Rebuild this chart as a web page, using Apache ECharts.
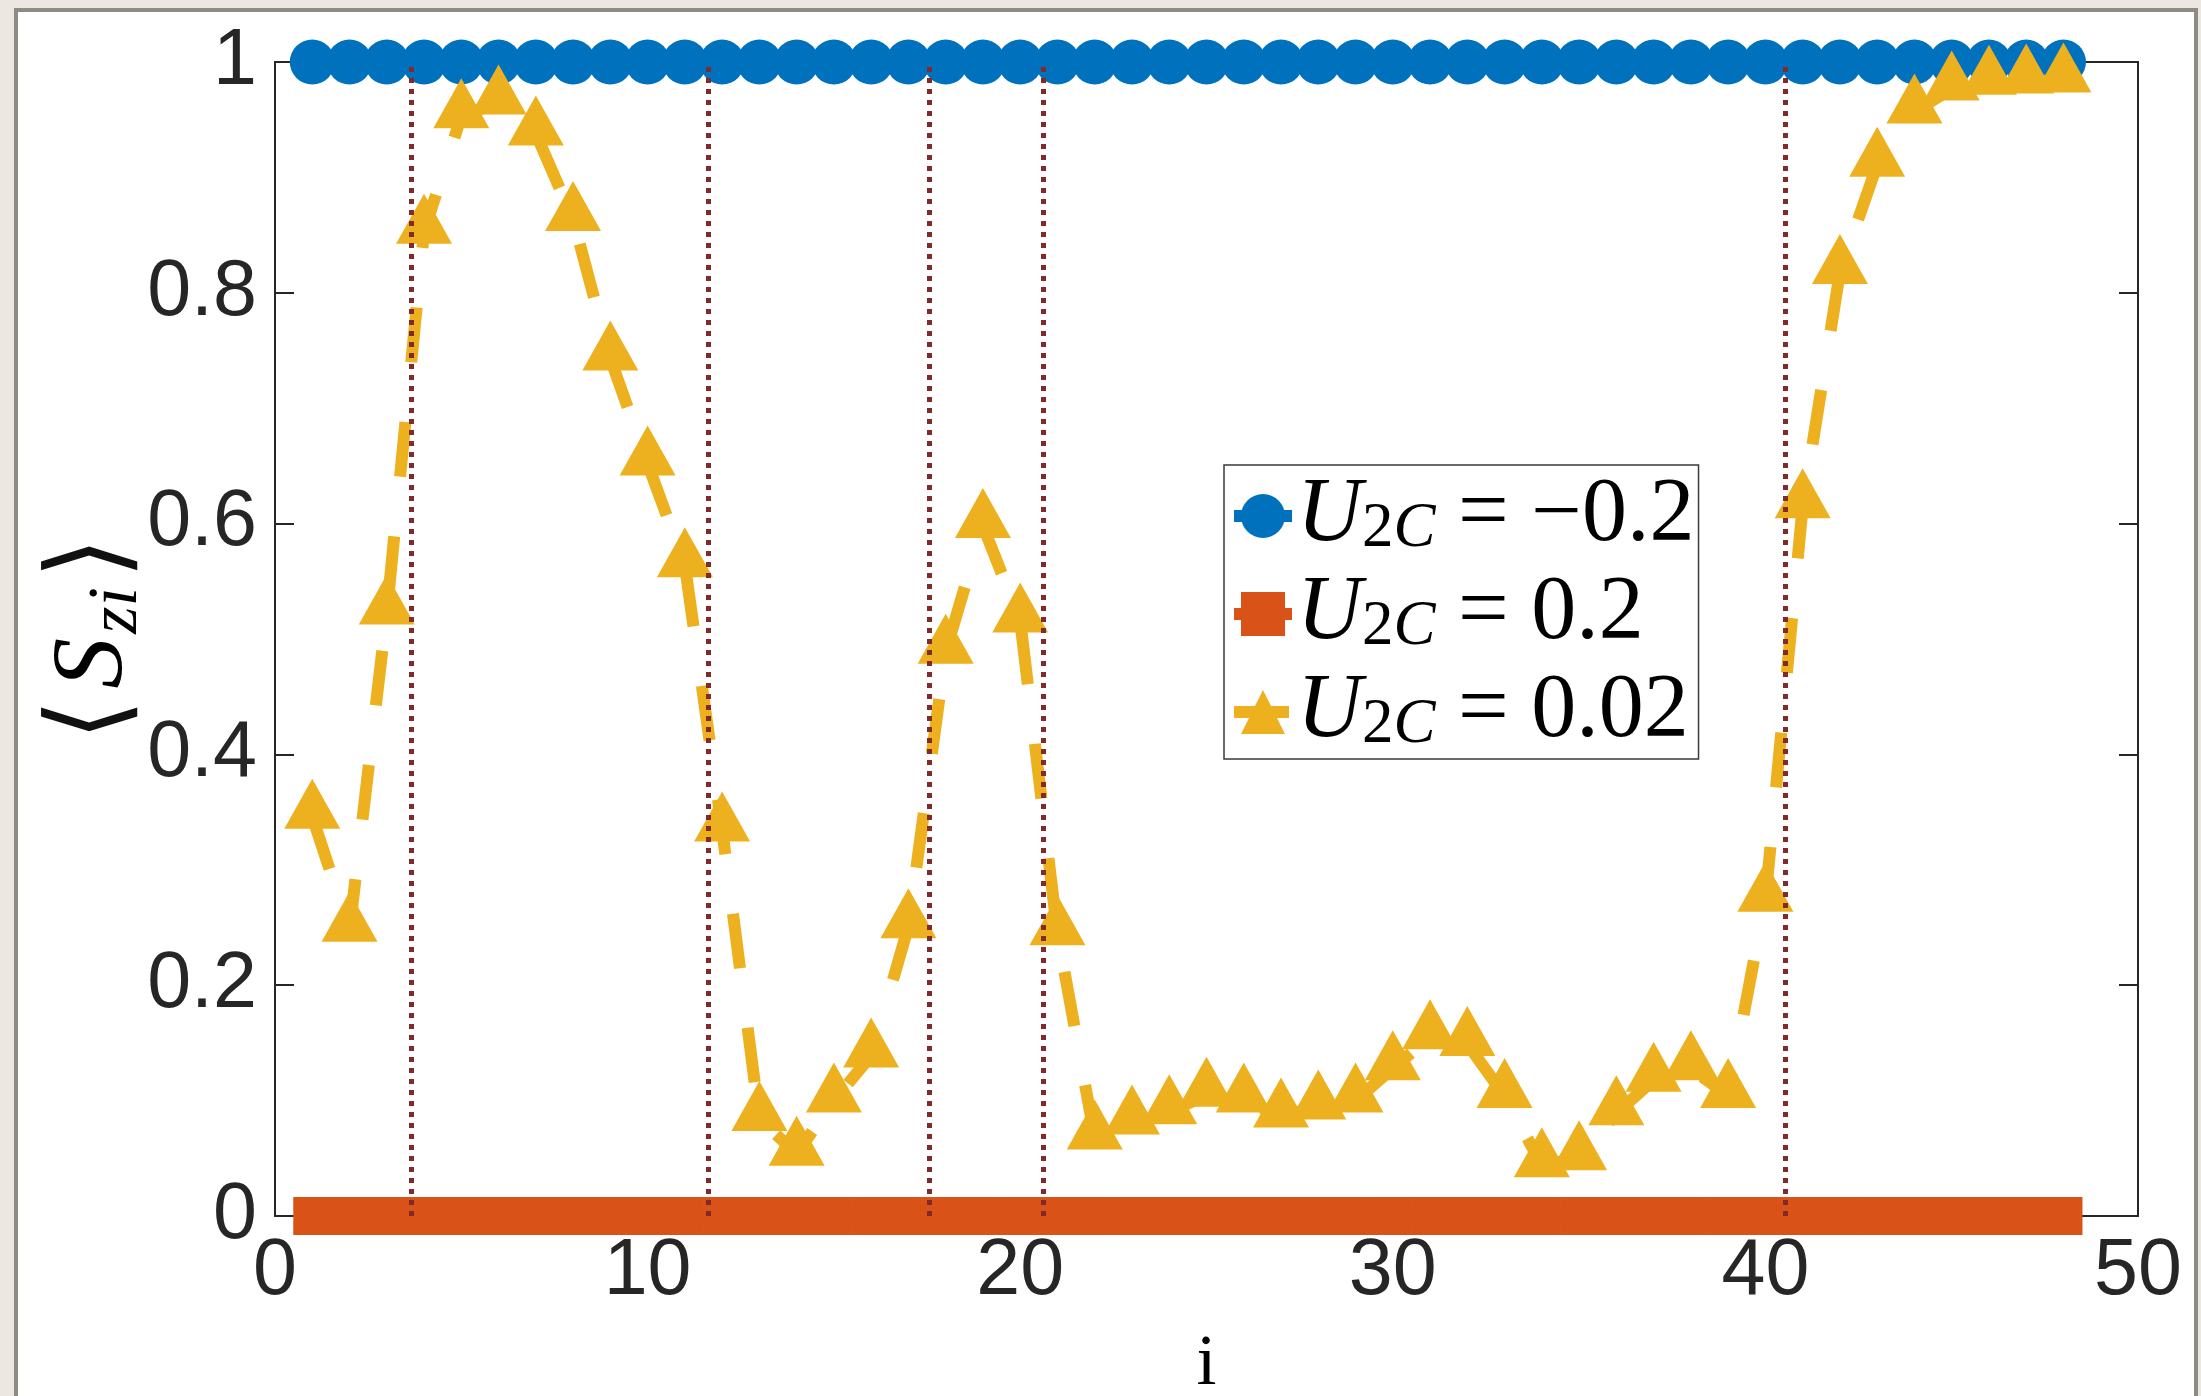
<!DOCTYPE html>
<html>
<head>
<meta charset="utf-8">
<script src="https://cdn.jsdelivr.net/npm/echarts@6/dist/echarts.min.js"></script>
<style>
  html, body { margin: 0; padding: 0; width: 2201px; height: 1396px; overflow: hidden; background: #ece8e1; }
  #frame { position: absolute; left: 14px; top: 8px; width: 2184px; height: 1400px; box-sizing: border-box;
           border: 4px solid #8e8a84; background: #ffffff; }
  #chart { position: absolute; left: 0; top: 0; width: 2201px; height: 1396px; }
</style>
</head>
<body>
<div id="frame"></div>
<div id="chart"></div>
<script>
// Site index i along the chain
const sites = [1, 2, 3, 4, 5, 6, 7, 8, 9, 10, 11, 12, 13, 14, 15, 16, 17, 18, 19, 20, 21, 22, 23, 24,
               25, 26, 27, 28, 29, 30, 31, 32, 33, 34, 35, 36, 37, 38, 39, 40, 41, 42, 43, 44, 45, 46, 47, 48];

// <S_zi> for U_2C = -0.2
const szNeg = [1, 1, 1, 1, 1, 1, 1, 1, 1, 1, 1, 1, 1, 1, 1, 1, 1, 1, 1, 1, 1, 1, 1, 1,
               1, 1, 1, 1, 1, 1, 1, 1, 1, 1, 1, 1, 1, 1, 1, 1, 1, 1, 1, 1, 1, 1, 1, 1];

// <S_zi> for U_2C = 0.2
const szPos = [0, 0, 0, 0, 0, 0, 0, 0, 0, 0, 0, 0, 0, 0, 0, 0, 0, 0, 0, 0, 0, 0, 0, 0,
               0, 0, 0, 0, 0, 0, 0, 0, 0, 0, 0, 0, 0, 0, 0, 0, 0, 0, 0, 0, 0, 0, 0, 0];

// <S_zi> for U_2C = 0.02
const szSmall = [0.346, 0.248, 0.523, 0.853, 0.953, 0.965, 0.938, 0.864, 0.743, 0.652,
                 0.564, 0.335, 0.084, 0.054, 0.100, 0.139, 0.251, 0.489, 0.598, 0.516,
                 0.245, 0.068, 0.081, 0.090, 0.105, 0.100, 0.087, 0.094, 0.100, 0.128,
                 0.155, 0.149, 0.104, 0.044, 0.050, 0.089, 0.118, 0.128, 0.104, 0.274,
                 0.615, 0.818, 0.911, 0.957, 0.977, 0.982, 0.983, 0.984];

// Positions of the dotted vertical marker lines
const transitions = [3.65, 11.63, 17.56, 20.62, 40.53];

// U_2C values shown in the legend
const couplings = ['\u22120.2', '0.2', '0.02'];
const seriesNames = couplings.map(v => 'U2C = ' + v);

const axisColor = '#262626';
const tickFont = 'Liberation Sans, Arial, Helvetica, sans-serif';
const mathFont = 'Liberation Serif, Times New Roman, serif';

const pairs = vals => sites.map((x, k) => [x, vals[k]]);

const boxAxis = {
  axisLine: { show: true, onZero: false, lineStyle: { color: axisColor, width: 2 } },
  axisTick: { show: true, inside: true, length: 19, lineStyle: { color: axisColor, width: 2 } },
  splitLine: { show: false }
};

const chart = echarts.init(document.getElementById('chart'), null, { renderer: 'canvas' });

chart.setOption({
  animation: false,
  backgroundColor: 'transparent',
  grid: { left: 275, top: 62, width: 1863, height: 1154, containLabel: false, outerBoundsMode: 'none' },
  xAxis: [
    Object.assign({
      type: 'value', min: 0, max: 50, interval: 10, position: 'bottom',
      axisLabel: { show: true, margin: 17, fontSize: 79, fontFamily: tickFont, color: axisColor },
      name: 'i', nameLocation: 'middle', nameGap: 113, nameMoveOverlap: false,
      nameTextStyle: { fontFamily: mathFont, fontSize: 72, color: '#000' }
    }, boxAxis),
    Object.assign({
      type: 'value', min: 0, max: 50, interval: 10, position: 'top',
      axisLabel: { show: false }
    }, boxAxis)
  ],
  yAxis: [
    Object.assign({
      type: 'value', min: 0, max: 1, interval: 0.2, position: 'left',
      axisLabel: { show: true, margin: 18, fontSize: 79, fontFamily: tickFont, color: axisColor },
      name: '{bl|\u27E8}{s|S}{sub|zi}{br|\u27E9}',
      nameLocation: 'middle', nameRotate: 90, nameGap: 122, nameMoveOverlap: false,
      nameTextStyle: {
        color: '#000',
        rich: {
          bl: { fontFamily: 'DejaVu Sans, sans-serif', fontWeight: 200, fontSize: 108, lineHeight: 116,
                padding: [0, 10, 0, 0], color: '#111' },
          br: { fontFamily: 'DejaVu Sans, sans-serif', fontWeight: 200, fontSize: 108, lineHeight: 116,
                padding: [0, 0, 0, 8], color: '#111' },
          s: { fontFamily: mathFont, fontStyle: 'italic', fontSize: 102, lineHeight: 116,
               padding: [0, 4, 0, 0], color: '#000' },
          sub: { fontFamily: mathFont, fontStyle: 'italic', fontSize: 70, lineHeight: 70,
                 verticalAlign: 'bottom', color: '#000' }
        }
      }
    }, boxAxis),
    Object.assign({
      type: 'value', min: 0, max: 1, interval: 0.2, position: 'right',
      axisLabel: { show: false }
    }, boxAxis)
  ],
  legend: {
    orient: 'vertical',
    left: 1224, top: 465,
    padding: [6, 4, 2, 4],
    itemGap: 8,
    itemWidth: 58,
    itemHeight: 55,
    backgroundColor: '#ffffff',
    borderColor: '#3a3a3a',
    borderWidth: 1.5,
    borderRadius: 0,
    selectedMode: false,
    lineStyle: { width: 12 },
    data: seriesNames,
    formatter: name => '{u|U}{sub|2}{subi|C}{eq| = ' + name.split('= ')[1] + '}',
    textStyle: {
      color: '#000',
      rich: {
        u: { fontFamily: mathFont, fontStyle: 'italic', fontSize: 90, lineHeight: 90, color: '#000' },
        sub: { fontFamily: mathFont, fontSize: 63, lineHeight: 50, verticalAlign: 'bottom', color: '#000' },
        subi: { fontFamily: mathFont, fontStyle: 'italic', fontSize: 63, lineHeight: 50, verticalAlign: 'bottom', color: '#000' },
        eq: { fontFamily: mathFont, fontSize: 90, lineHeight: 90, color: '#000' }
      }
    }
  },
  series: [
    {
      name: seriesNames[0], type: 'line', data: pairs(szNeg), clip: false,
      symbol: 'circle', symbolSize: 45, showAllSymbol: true,
      itemStyle: { color: '#0072bd' },
      lineStyle: { color: '#0072bd', width: 12 }
    },
    {
      name: seriesNames[1], type: 'line', data: pairs(szPos), clip: false,
      symbol: 'rect', symbolSize: 38, showAllSymbol: true,
      itemStyle: { color: '#d95319' },
      lineStyle: { color: '#d95319', width: 12 }
    },
    {
      name: seriesNames[2], type: 'line', data: pairs(szSmall), clip: false,
      symbol: 'triangle', symbolSize: [56, 50], symbolOffset: [0, -13], showAllSymbol: true,
      itemStyle: { color: '#edb120' },
      lineStyle: { color: '#edb120', width: 12, type: [55, 60] },
      markLine: {
        silent: true,
        symbol: ['none', 'none'],
        label: { show: false },
        emphasis: { disabled: true },
        lineStyle: { color: '#82292a', width: 5, type: [5, 6] },
        data: transitions.map(x => ({ xAxis: x }))
      }
    }
  ]
});
</script>
</body>
</html>
